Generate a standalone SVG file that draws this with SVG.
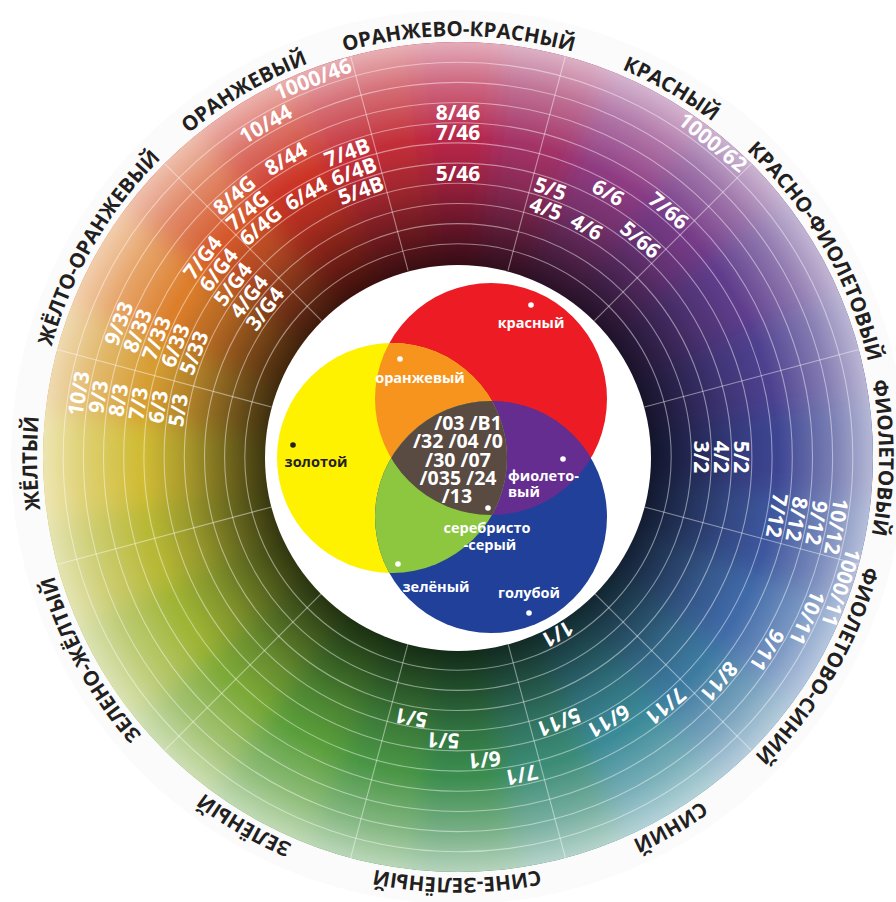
<svg xmlns="http://www.w3.org/2000/svg" xmlns:xlink="http://www.w3.org/1999/xlink" width="896" height="902" viewBox="0 0 896 902">
<defs>
  <style>
    .o{font-family:"Open Sans","DejaVu Sans",sans-serif;font-weight:700;font-size:20.5px;fill:#231f20;text-anchor:middle}
    .n{font-family:"Open Sans","DejaVu Sans",sans-serif;font-weight:700;font-size:21px;fill:#fff;text-anchor:middle}
    .v{font-family:"Open Sans","DejaVu Sans",sans-serif;font-weight:700;font-size:14.5px;fill:#fff;text-anchor:middle}
    .c{font-family:"Open Sans","DejaVu Sans",sans-serif;font-weight:700;font-size:19.5px;fill:#fff;text-anchor:middle}
    .ln{fill:none;stroke:#fff;stroke-opacity:0.45;stroke-width:1.1}
  </style>
  <filter id="blur" x="-20%" y="-20%" width="140%" height="140%"><feGaussianBlur stdDeviation="12"/></filter>
  <clipPath id="disk"><circle cx="458" cy="457" r="415"/></clipPath>
  <radialGradient id="dark" gradientUnits="userSpaceOnUse" cx="458" cy="457" r="415">
    <stop offset="0.465" stop-color="#000" stop-opacity="0.7"/>
    <stop offset="0.56" stop-color="#000" stop-opacity="0.44"/>
    <stop offset="0.66" stop-color="#000" stop-opacity="0.18"/>
    <stop offset="0.76" stop-color="#000" stop-opacity="0"/>
  </radialGradient>
  <radialGradient id="light" gradientUnits="userSpaceOnUse" cx="458" cy="457" r="415">
    <stop offset="0.77" stop-color="#fff" stop-opacity="0"/>
    <stop offset="0.90" stop-color="#fff" stop-opacity="0.3"/>
    <stop offset="1" stop-color="#fff" stop-opacity="0.62"/>
  </radialGradient>
  <polygon id="w" points="0,0 -80,-520 80,-520"/>
  <path id="ring" d="M458,36 A421,421 0 0 1 458,878 A421,421 0 0 1 458,36 A421,421 0 0 1 458,878 A421,421 0 0 1 458,36"/>
  <clipPath id="clipR"><circle cx="491" cy="399" r="116"/></clipPath>
  <clipPath id="clipY"><circle cx="392" cy="458" r="115"/></clipPath>
  <clipPath id="clipB"><circle cx="491" cy="517" r="116"/></clipPath>
</defs>

<rect width="896" height="902" fill="#fff"/>
<circle cx="458" cy="457" r="447" fill="#fbfbfc"/>

<g id="wheel" clip-path="url(#disk)">
  <g filter="url(#blur)" transform="translate(458,457)">
    <use href="#w" transform="rotate(0)" fill="#b8284a"/>
    <use href="#w" transform="rotate(15)" fill="#a33166"/>
    <use href="#w" transform="rotate(30)" fill="#8e3a82"/>
    <use href="#w" transform="rotate(45)" fill="#763b87"/>
    <use href="#w" transform="rotate(60)" fill="#5e3c8c"/>
    <use href="#w" transform="rotate(75)" fill="#4d408f"/>
    <use href="#w" transform="rotate(90)" fill="#3c4492"/>
    <use href="#w" transform="rotate(105)" fill="#3e579d"/>
    <use href="#w" transform="rotate(120)" fill="#3f6aa8"/>
    <use href="#w" transform="rotate(135)" fill="#3d7aa0"/>
    <use href="#w" transform="rotate(150)" fill="#3a8a98"/>
    <use href="#w" transform="rotate(165)" fill="#3a8b74"/>
    <use href="#w" transform="rotate(180)" fill="#3a8c50"/>
    <use href="#w" transform="rotate(195)" fill="#4a9545"/>
    <use href="#w" transform="rotate(210)" fill="#5a9e3a"/>
    <use href="#w" transform="rotate(225)" fill="#7ca938"/>
    <use href="#w" transform="rotate(240)" fill="#9eb436"/>
    <use href="#w" transform="rotate(255)" fill="#b7b835"/>
    <use href="#w" transform="rotate(270)" fill="#d0bc34"/>
    <use href="#w" transform="rotate(285)" fill="#d69d30"/>
    <use href="#w" transform="rotate(300)" fill="#dc7e2c"/>
    <use href="#w" transform="rotate(315)" fill="#d4592a"/>
    <use href="#w" transform="rotate(330)" fill="#cc3428"/>
    <use href="#w" transform="rotate(345)" fill="#c22e39"/>
  </g>
  <circle cx="458" cy="457" r="415" fill="url(#dark)"/>
  <circle cx="458" cy="457" r="415" fill="url(#light)"/>
</g>

<g id="grid" class="ln">
  <circle cx="458" cy="457" r="213.2"/>
  <circle cx="458" cy="457" r="233.4"/>
  <circle cx="458" cy="457" r="253.5"/>
  <circle cx="458" cy="457" r="273.7"/>
  <circle cx="458" cy="457" r="293.9"/>
  <circle cx="458" cy="457" r="314.1"/>
  <circle cx="458" cy="457" r="334.3"/>
  <circle cx="458" cy="457" r="354.5"/>
  <circle cx="458" cy="457" r="374.6"/>
  <circle cx="458" cy="457" r="394.8"/>
  <g transform="translate(458,457)">
    <line x1="0" y1="-193" x2="0" y2="-415" transform="rotate(15)"/>
    <line x1="0" y1="-193" x2="0" y2="-415" transform="rotate(45)"/>
    <line x1="0" y1="-193" x2="0" y2="-415" transform="rotate(75)"/>
    <line x1="0" y1="-193" x2="0" y2="-415" transform="rotate(105)"/>
    <line x1="0" y1="-193" x2="0" y2="-415" transform="rotate(135)"/>
    <line x1="0" y1="-193" x2="0" y2="-415" transform="rotate(165)"/>
    <line x1="0" y1="-193" x2="0" y2="-415" transform="rotate(195)"/>
    <line x1="0" y1="-193" x2="0" y2="-415" transform="rotate(225)"/>
    <line x1="0" y1="-193" x2="0" y2="-415" transform="rotate(255)"/>
    <line x1="0" y1="-193" x2="0" y2="-415" transform="rotate(285)"/>
    <line x1="0" y1="-193" x2="0" y2="-415" transform="rotate(315)"/>
    <line x1="0" y1="-193" x2="0" y2="-415" transform="rotate(345)"/>
  </g>
</g>

<circle id="hole" cx="458" cy="458" r="193" fill="#fff"/>

<g id="outer-labels" class="o">
  <text><textPath href="#ring" startOffset="2645.2">ОРАНЖЕВО-КРАСНЫЙ</textPath></text>
  <text><textPath href="#ring" startOffset="2865.6">КРАСНЫЙ</textPath></text>
  <text><textPath href="#ring" startOffset="3086.1">КРАСНО-ФИОЛЕТОВЫЙ</textPath></text>
  <text><textPath href="#ring" startOffset="3306.5">ФИОЛЕТОВЫЙ</textPath></text>
  <text><textPath href="#ring" startOffset="3526.9">ФИОЛЕТОВО-СИНИЙ</textPath></text>
  <text><textPath href="#ring" startOffset="3747.4">СИНИЙ</textPath></text>
  <text><textPath href="#ring" startOffset="3967.8">СИНЕ-ЗЕЛЁНЫЙ</textPath></text>
  <text><textPath href="#ring" startOffset="4188.2">ЗЕЛЁНЫЙ</textPath></text>
  <text><textPath href="#ring" startOffset="4416.0">ЗЕЛЕНО-ЖЁЛТЫЙ</textPath></text>
  <text><textPath href="#ring" startOffset="4621.7">ЖЁЛТЫЙ</textPath></text>
  <text><textPath href="#ring" startOffset="4849.6">ЖЁЛТО-ОРАНЖЕВЫЙ</textPath></text>
  <text><textPath href="#ring" startOffset="5066.3">ОРАНЖЕВЫЙ</textPath></text>
</g>

<g id="numbers" class="n" transform="translate(458,457)">
  <text transform="rotate(0) translate(0,-344.4)" y="7.5">8/46</text>
  <text transform="rotate(0) translate(0,-324.2)" y="7.5">7/46</text>
  <text transform="rotate(0) translate(0,-283.8)" y="7.5">5/46</text>

  <text transform="rotate(339) translate(0,-404.9)" y="7.5">1000/46</text>
  <text transform="rotate(330) translate(0,-384.7)" y="7.5">10/44</text>
  <text transform="rotate(330) translate(0,-344.4)" y="7.5">8/44</text>
  <text transform="rotate(330) translate(0,-304.0)" y="7.5">6/44</text>
  <text transform="rotate(340) translate(0,-324.2)" y="7.5">7/4B</text>
  <text transform="rotate(340) translate(0,-304.0)" y="7.5">6/4B</text>
  <text transform="rotate(340) translate(0,-283.8)" y="7.5">5/4B</text>
  <text transform="rotate(319.5) translate(0,-344.4)" y="7.5">8/4G</text>
  <text transform="rotate(319.5) translate(0,-324.2)" y="7.5">7/4G</text>
  <text transform="rotate(319.5) translate(0,-304.0)" y="7.5">6/4G</text>

  <text transform="rotate(308) translate(0,-324.2)" y="7.5">7/G4</text>
  <text transform="rotate(308) translate(0,-304.0)" y="7.5">6/G4</text>
  <text transform="rotate(307.5) translate(0,-283.8)" y="7.5">5/G4</text>
  <text transform="rotate(307.5) translate(0,-263.6)" y="7.5">4/G4</text>
  <text transform="rotate(307.5) translate(0,-243.5)" y="7.5">3/G4</text>
  <text transform="rotate(291.5) translate(0,-364.6)" y="7.5">9/33</text>
  <text transform="rotate(291.5) translate(0,-344.4)" y="7.5">8/33</text>
  <text transform="rotate(291.5) translate(0,-324.2)" y="7.5">7/33</text>
  <text transform="rotate(291.5) translate(0,-304.0)" y="7.5">6/33</text>
  <text transform="rotate(291.5) translate(0,-283.8)" y="7.5">5/33</text>

  <text transform="rotate(279.5) translate(0,-384.7)" y="7.5">10/3</text>
  <text transform="rotate(279.5) translate(0,-364.6)" y="7.5">9/3</text>
  <text transform="rotate(279.5) translate(0,-344.4)" y="7.5">8/3</text>
  <text transform="rotate(279.5) translate(0,-324.2)" y="7.5">7/3</text>
  <text transform="rotate(279.5) translate(0,-304.0)" y="7.5">6/3</text>
  <text transform="rotate(279.5) translate(0,-283.8)" y="7.5">5/3</text>

  <text transform="rotate(19) translate(0,-283.8)" y="7.5">5/5</text>
  <text transform="rotate(19.5) translate(0,-263.6)" y="7.5">4/5</text>
  <text transform="rotate(29.6) translate(0,-304.0)" y="7.5">6/6</text>
  <text transform="rotate(29.2) translate(0,-263.6)" y="7.5">4/6</text>
  <text transform="rotate(40.5) translate(0,-324.2)" y="7.5">7/66</text>
  <text transform="rotate(40) translate(0,-283.8)" y="7.5">5/66</text>
  <text transform="rotate(39) translate(0,-404.9)" y="7.5">1000/62</text>

  <text transform="rotate(90) translate(0,-283.8)" y="7.5">5/2</text>
  <text transform="rotate(90) translate(0,-263.6)" y="7.5">4/2</text>
  <text transform="rotate(90) translate(0,-243.5)" y="7.5">3/2</text>
  <text transform="rotate(100.4) translate(0,-384.7)" y="7.5">10/12</text>
  <text transform="rotate(100.4) translate(0,-364.6)" y="7.5">9/12</text>
  <text transform="rotate(100.4) translate(0,-344.4)" y="7.5">8/12</text>
  <text transform="rotate(100.4) translate(0,-324.2)" y="7.5">7/12</text>

  <text transform="rotate(108.8) translate(0,-404.9)" y="7.5">1000/11</text>
  <text transform="rotate(114.7) translate(0,-384.7)" y="7.5">10/11</text>
  <text transform="rotate(122) translate(0,-364.6)" y="7.5">9/11</text>
  <text transform="rotate(130.7) translate(0,-344.4)" y="7.5">8/11</text>
  <text transform="rotate(140.2) translate(0,-324.2)" y="7.5">7/11</text>
  <text transform="rotate(150.3) translate(0,-304.0)" y="7.5">6/11</text>
  <text transform="rotate(159.2) translate(0,-283.8)" y="7.5">5/11</text>
  <text transform="rotate(150.6) translate(0,-203.1)" y="7.5">1/1</text>

  <text transform="rotate(190.2) translate(0,-265)" y="7.5">5/1</text>
  <text transform="rotate(183) translate(0,-283.8)" y="7.5">5/1</text>
  <text transform="rotate(175) translate(0,-304.0)" y="7.5">6/1</text>
  <text transform="rotate(168.7) translate(0,-324.2)" y="7.5">7/1</text>
</g>

<g id="venn">
  <circle cx="491" cy="399" r="116" fill="#ed1c24"/>
  <circle cx="392" cy="458" r="115" fill="#fff200"/>
  <circle cx="491" cy="517" r="116" fill="#21409a"/>
  <g clip-path="url(#clipR)">
    <circle cx="392" cy="458" r="115" fill="#f7941d"/>
    <circle cx="491" cy="517" r="116" fill="#662d91"/>
  </g>
  <g clip-path="url(#clipY)">
    <circle cx="491" cy="517" r="116" fill="#8dc63f"/>
  </g>
  <g clip-path="url(#clipB)">
    <g clip-path="url(#clipR)">
      <circle cx="392" cy="458" r="115" fill="#594a42"/>
    </g>
  </g>
</g>

<g id="venn-labels">
  <g fill="#fff">
    <circle cx="531" cy="305" r="2.8"/>
    <circle cx="400" cy="359" r="2.8"/>
    <circle cx="563" cy="459" r="2.8"/>
    <circle cx="488" cy="508" r="2.8"/>
    <circle cx="398" cy="564" r="2.8"/>
    <circle cx="529" cy="613" r="2.8"/>
  </g>
  <circle cx="293" cy="445" r="2.8" fill="#231f20"/>
  <text class="v" x="531" y="328">красный</text>
  <text class="v" x="420" y="383">оранжевый</text>
  <text class="v" x="316" y="467" style="fill:#231f20">золотой</text>
  <text class="v" style="text-anchor:start"><tspan x="508" y="481">фиолето-</tspan><tspan x="508" y="497">вый</tspan></text>
  <text class="v"><tspan x="487" y="533">серебристо</tspan><tspan x="490" y="550">-серый</tspan></text>
  <text class="v" x="436" y="592">зелёный</text>
  <text class="v" x="529" y="598">голубой</text>
  <text class="c"><tspan x="468" y="430">/03 /B1</tspan><tspan x="458" y="448">/32 /04 /0</tspan><tspan x="458" y="467">/30 /07</tspan><tspan x="458" y="485">/035 /24</tspan><tspan x="457" y="503">/13</tspan></text>
</g>
</svg>
